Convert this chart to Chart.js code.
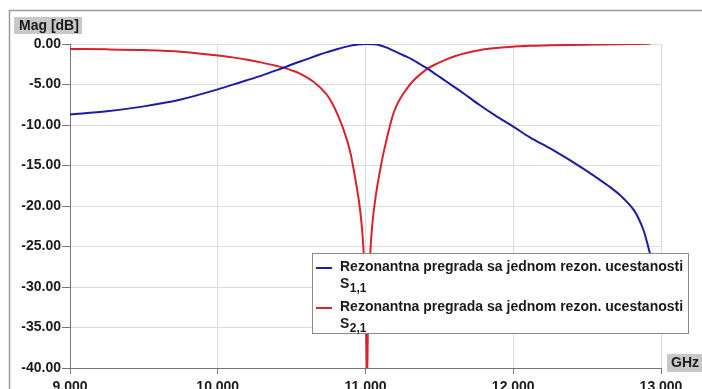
<!DOCTYPE html>
<html>
<head>
<meta charset="utf-8">
<script src="https://cdn.jsdelivr.net/npm/chart.js@4/dist/chart.umd.min.js"></script>
<style>
  html, body { margin: 0; padding: 0; background: #ffffff; }
  #wrap { width: 702px; height: 389px; position: relative; overflow: hidden; }
</style>
</head>
<body>
<div id="wrap"><canvas id="c" width="702" height="389"></canvas></div>
<script>
// S11 (reflection) magnitude, dB, vs frequency in GHz
const freqS11 = [9.0, 9.25, 9.5, 9.75, 10.0, 10.15, 10.28, 10.38, 10.45, 10.52, 10.6, 10.68, 10.75,
  10.8, 10.85, 10.9, 10.95, 11.0, 11.05, 11.09, 11.14, 11.2, 11.26, 11.32, 11.37, 11.42, 11.48,
  11.545, 11.6, 11.66, 11.77, 11.88, 12.0, 12.11, 12.27, 12.45, 12.65, 12.72, 12.78, 12.82,
  12.85, 12.88, 12.9, 12.93];
const magS11 = [-8.7, -8.3, -7.7, -6.85, -5.6, -4.75, -4.0, -3.35, -2.9, -2.4, -1.9, -1.35, -0.95,
  -0.68, -0.42, -0.2, -0.06, 0.0, -0.03, -0.12, -0.42, -0.92, -1.42, -1.95, -2.5, -3.04, -3.8,
  -4.6, -5.3, -6.05, -7.5, -8.85, -10.2, -11.5, -13.1, -15.1, -17.6, -18.6, -19.7, -20.6,
  -21.6, -22.9, -24.1, -26.2];

// S21 (transmission) magnitude, dB, vs frequency in GHz
const freqS21 = [9.0, 9.25, 9.5, 9.75, 10.0, 10.1, 10.2, 10.3, 10.4, 10.45, 10.5, 10.55, 10.6,
  10.65, 10.7, 10.74, 10.78, 10.82, 10.85, 10.88, 10.9, 10.915, 10.94, 10.96, 10.975, 10.985,
  10.995, 11.003, 11.01, 11.017, 11.025, 11.035, 11.045, 11.06, 11.08, 11.105, 11.12, 11.14,
  11.16, 11.185, 11.21, 11.25, 11.28, 11.32, 11.37, 11.42, 11.48, 11.545, 11.6, 11.65, 11.71,
  11.77, 11.85, 11.92, 12.0, 12.11, 12.25, 12.4, 12.55, 12.7, 12.85, 12.93];
const magS21 = [-0.62, -0.66, -0.75, -0.95, -1.42, -1.65, -1.95, -2.3, -2.72, -2.95, -3.25, -3.6, -4.1,
  -4.7, -5.5, -6.3, -7.5, -9.1, -10.5, -12.2, -13.6, -15.0, -17.6, -20.0, -22.5, -25.0,
  -29.0, -34.0, -42.0, -34.0, -29.0, -25.0, -22.5, -20.0, -17.5, -15.0, -13.6, -12.0,
  -10.5, -8.8, -7.6, -6.3, -5.5, -4.6, -3.75, -3.04, -2.45, -1.93, -1.55, -1.25, -0.98,
  -0.76, -0.56, -0.43, -0.33, -0.22, -0.16, -0.11, -0.07, -0.03, 0.02, 0.06];

const seriesNames = ['Rezonantna pregrada sa jednom rezon. ucestanosti',
                     'Rezonantna pregrada sa jednom rezon. ucestanosti'];
const seriesSubs = ['1,1', '2,1'];
const seriesColors = ['#1c1ca6', '#d8222c'];

const FONT = '"Liberation Sans", Arial, sans-serif';

function toPoints(xs, ys) { return xs.map((x, i) => ({ x: x, y: ys[i] })); }

// Frame, axis caption boxes and the two-line legend with subscripts
const decorations = {
  id: 'decorations',
  beforeDraw(chart) {
    const ctx = chart.ctx;
    ctx.save();
    ctx.strokeStyle = '#9a9a9a';
    ctx.lineWidth = 1.5;
    ctx.beginPath();
    ctx.moveTo(9.5, 400);
    ctx.lineTo(9.5, 10.5);
    ctx.lineTo(710, 10.5);
    ctx.stroke();
    ctx.restore();
  },
  afterDraw(chart) {
    const ctx = chart.ctx;
    ctx.save();
    // y caption
    ctx.fillStyle = '#c8c8c8';
    ctx.fillRect(14, 17, 68, 17);
    ctx.fillStyle = '#1a1a1a';
    ctx.font = 'bold 14px ' + FONT;
    ctx.textBaseline = 'middle';
    ctx.textAlign = 'left';
    ctx.fillText('Mag [dB]', 19, 26);
    // x caption
    ctx.fillStyle = '#c8c8c8';
    ctx.fillRect(667, 354, 35, 18);
    ctx.fillStyle = '#1a1a1a';
    ctx.fillText('GHz', 671, 363);

    // legend
    const lx = 312.5, ly = 253.5, lw = 376, lh = 80;
    ctx.fillStyle = '#ffffff';
    ctx.fillRect(lx, ly, lw, lh);
    ctx.strokeStyle = '#8a8a8a';
    ctx.lineWidth = 1;
    ctx.strokeRect(lx, ly, lw, lh);
    chart.data.datasets.forEach((ds, i) => {
      const y0 = 271 + 40 * i;
      ctx.strokeStyle = ds.borderColor;
      ctx.lineWidth = 2;
      ctx.beginPath();
      ctx.moveTo(316, y0 - 3);
      ctx.lineTo(332, y0 - 3);
      ctx.stroke();
      ctx.fillStyle = '#1a1a1a';
      ctx.textBaseline = 'alphabetic';
      ctx.font = 'bold 14px ' + FONT;
      ctx.fillText(ds.label, 340, y0);
      ctx.fillText('S', 340, y0 + 17);
      const sw = ctx.measureText('S').width;
      ctx.font = 'bold 12px ' + FONT;
      ctx.fillText(seriesSubs[i], 340 + sw + 0.5, y0 + 21);
    });
    ctx.restore();
  }
};

new Chart(document.getElementById('c'), {
  type: 'line',
  data: {
    datasets: [
      {
        label: seriesNames[0],
        data: toPoints(freqS11, magS11),
        borderColor: seriesColors[0],
        borderWidth: 2,
        pointRadius: 0,
        fill: false,
        cubicInterpolationMode: 'monotone'
      },
      {
        label: seriesNames[1],
        data: toPoints(freqS21, magS21),
        borderColor: seriesColors[1],
        borderWidth: 2,
        pointRadius: 0,
        fill: false,
        cubicInterpolationMode: 'monotone'
      }
    ]
  },
  options: {
    responsive: false,
    animation: false,
    devicePixelRatio: 1,
    layout: { padding: { left: 0, top: 44, right: 41, bottom: 0 } },
    plugins: {
      legend: { display: false },
      tooltip: { enabled: false },
      title: { display: false }
    },
    scales: {
      x: {
        type: 'linear',
        min: 9,
        max: 13,
        afterFit: s => { s.height = 21; },
        ticks: {
          stepSize: 1,
          padding: 5,
          color: '#1a1a1a',
          font: { family: FONT, size: 14, weight: 'bold' },
          maxRotation: 0,
          callback: v => Number(v).toFixed(3)
        },
        grid: { color: '#dcdcdc', tickColor: '#777777', tickLength: 6, lineWidth: 1 },
        border: { color: '#777777', width: 1 }
      },
      y: {
        type: 'linear',
        min: -40,
        max: 0,
        afterFit: s => { s.width = 70; },
        ticks: {
          stepSize: 5,
          padding: 1,
          color: '#1a1a1a',
          font: { family: FONT, size: 14, weight: 'bold' },
          callback: v => Number(v).toFixed(2)
        },
        grid: { color: '#dcdcdc', tickColor: '#777777', tickLength: 8, lineWidth: 1 },
        border: { color: '#777777', width: 1 }
      }
    }
  },
  plugins: [decorations]
});
</script>
</body>
</html>
